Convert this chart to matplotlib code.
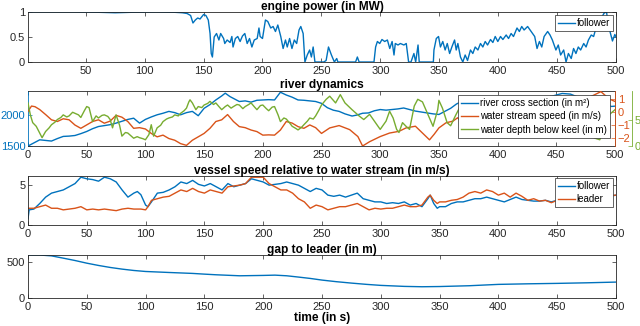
import matplotlib
matplotlib.use("Agg")
import matplotlib.pyplot as plt

# ---------------- data ----------------
power_t = [1, 20, 40, 60, 75, 90, 110, 125, 132, 136, 139, 141, 143, 145, 147, 150, 152, 154, 155.5, 156.5, 157.5,
           159, 161, 163, 164.5, 167, 168, 170, 172.5, 174, 175, 177, 179, 181, 183, 185, 187, 189, 191, 193, 195.5,
           197, 198, 200, 202.5, 204.5, 207, 209, 211, 213, 215.5, 217.5, 219.5, 221, 223, 225, 227, 229, 231,
           232.5, 234.5, 236, 238, 240, 241.5, 243, 244.5, 247, 252, 254, 256, 258.5, 261, 263, 264, 279, 280.5,
           282, 294.6, 296, 297.5, 299.5, 301.4, 303.7, 306, 308, 310, 311.6, 312.7, 315, 317, 320, 322, 324, 326,
           328.5, 330, 332, 333, 345, 345.5, 347.5, 349.4, 351, 353, 355, 356.8, 358.8, 360.7, 363, 364.4, 365.8,
           368, 370, 372, 374, 376.5, 378.5, 380.5, 382.8, 385, 387, 389, 391, 393.5, 395.5, 397.5, 399.7, 402,
           404, 406.8, 408.8, 411, 413, 416, 418, 420, 422, 425, 428, 431, 433, 435, 437, 439, 442, 444, 446, 449,
           451, 453, 455.6, 457.6, 459.6, 462, 464, 466, 468, 470, 472.6, 474.6, 476.6, 479, 481, 483, 485, 488,
           490, 492, 493, 495, 497, 499, 500]
power_mw = [1.0, 1.0, 1.0, 0.995, 0.985, 0.995, 1.0, 0.995, 0.985, 0.97, 0.93, 0.78, 0.84, 0.88, 0.86, 0.95, 0.93,
            0.84, 0.57, 0.17, 0.1, 0.5, 0.57, 0.44, 0.57, 0.47, 0.37, 0.44, 0.39, 0.51, 0.30, 0.47, 0.51, 0.41, 0.52,
            0.57, 0.37, 0.47, 0.30, 0.44, 0.47, 0.68, 0.51, 0.47, 0.84, 0.81, 0.68, 0.71, 0.61, 0.74, 0.51, 0.27,
            0.44, 0.30, 0.47, 0.27, 0.44, 0.37, 0.64, 0.71, 0.57, 0.0, 0.14, 0.24, 0.1, 0.30, 0.0, 0.0, 0.0, 0.03,
            0.30, 0.14, 0.0, 0.07, 0.0, 0.0, 0.1, 0.0, 0.0, 0.30, 0.41, 0.37, 0.45, 0.41, 0.44, 0.27, 0.41, 0.14,
            0.37, 0.34, 0.37, 0.34, 0.37, 0.0, 0.0, 0.17, 0.0, 0.34, 0.0, 0.0, 0.24, 0.47, 0.51, 0.30, 0.41, 0.24,
            0.37, 0.17, 0.30, 0.44, 0.24, 0.37, 0.1, 0.0, 0.14, 0.03, 0.24, 0.17, 0.30, 0.24, 0.37, 0.30, 0.41,
            0.34, 0.45, 0.39, 0.51, 0.41, 0.51, 0.45, 0.54, 0.47, 0.57, 0.51, 0.68, 0.61, 0.71, 0.64, 0.71, 0.61,
            0.51, 0.27, 0.41, 0.30, 0.51, 0.61, 0.54, 0.44, 0.24, 0.34, 0.14, 0.24, 0.0, 0.17, 0.07, 0.27, 0.17,
            0.30, 0.24, 0.37, 0.30, 0.44, 0.54, 0.51, 0.68, 0.75, 0.9, 0.98, 1.0, 0.8, 0.6, 0.42, 0.55, 0.5]

xsec_t = [0, 5, 10, 15, 20, 25, 30, 35, 40, 45, 50, 55, 60, 65, 70, 75, 80, 85, 90, 95, 100, 105, 110, 115, 120,
          125, 130, 135, 140, 145, 150, 155, 160, 165, 168, 172, 175, 180, 185, 190, 195, 200, 205, 210, 215, 220,
          225, 230, 235, 240, 245, 250, 255, 260, 265, 270, 276, 280, 285, 290, 295, 300, 305, 310, 315, 320, 325,
          330, 335, 340, 345, 350, 355, 360, 365, 370, 375, 385, 395, 405, 415, 425, 435, 445, 455, 462, 470, 480,
          490, 497, 500]
xsec_m2 = [1500, 1550, 1600, 1590, 1580, 1620, 1655, 1660, 1670, 1700, 1735, 1780, 1815, 1830, 1845, 1870, 1900,
           1930, 1950, 1870, 1930, 1970, 2005, 2030, 2060, 2040, 2005, 2040, 2060, 1990, 2110, 2170, 2245, 2310,
           2355, 2300, 2270, 2220, 2230, 2210, 2240, 2245, 2250, 2245, 2370, 2325, 2290, 2245, 2240, 2230, 2220,
           2190, 2120, 2080, 2060, 2020, 1985, 2000, 2030, 2035, 2070, 2090, 2080, 2090, 2100, 2115, 2090, 2065,
           2050, 2035, 2020, 2010, 2060, 2110, 2180, 2225, 2250, 2200, 2150, 2200, 2250, 2200, 2250, 2300, 2350,
           2340, 2280, 2230, 2180, 2140, 2145]

speed_t = [0, 3, 6, 10, 15, 20, 25, 30, 35, 40, 45, 50, 55, 60, 65, 70, 75, 80, 85, 90, 95, 100, 105, 110, 115,
           120, 125, 130, 135, 140, 145, 150, 155, 160, 165, 170, 175, 180, 185, 190, 195, 200, 205, 210, 215, 220,
           225, 230, 235, 240, 245, 250, 257, 265, 274, 281, 285, 291, 300, 308, 316, 322, 330, 336, 342, 346, 350,
           356, 362, 366, 370, 375, 385, 395, 405, 415, 425, 435, 445, 450, 460, 470, 480, 488, 495, 500]
speed_ms = [0.05, 0.45, 0.4, 0.18, -0.2, -0.6, -0.73, -0.52, -0.6, -1.0, -1.25, -0.99, -0.73, -0.6, -0.86, -0.7,
            -0.26, -0.4, -0.73, -1.25, -1.2, -1.3, -1.64, -1.9, -1.77, -2.03, -2.16, -2.42, -2.55, -2.16, -1.9,
            -1.64, -1.25, -0.73, -0.6, -0.2, -0.73, -1.12, -1.2, -1.38, -1.5, -1.77, -1.75, -1.77, -1.38, -0.73,
            -0.85, -1.12, -1.25, -0.99, -1.2, -1.64, -1.22, -1.04, -1.35, -1.88, -2.6, -2.27, -1.88, -1.61, -1.48,
            -1.22, -1.09, -1.61, -2.13, -1.7, -1.22, -0.83, -0.7, -0.44, -0.9, -0.8, -0.5, -0.2, 0.0, 0.3, 0.6,
            0.8, 1.2, 1.0, 0.5, 0.8, 1.2, 1.55, 1.0, 0.8]

depth_t = [0, 2, 4, 7, 10, 12, 15, 18, 20, 23, 25, 28, 30, 33, 35, 38, 40, 43, 45, 48, 50, 52, 55, 58, 60, 63, 65,
           68, 70, 72, 75, 78, 80, 83, 85, 88, 90, 93, 95, 98, 100, 103, 105, 107, 110, 113, 115, 118, 120, 123,
           125, 128, 130, 133, 135, 137, 138, 140, 143, 145, 148, 150, 153, 155, 158, 160, 163, 165, 168, 170, 173,
           175, 178, 180, 183, 185, 188, 190, 193, 195, 198, 200, 203, 205, 208, 210, 213, 215, 218, 220, 223, 225,
           228, 230, 233, 235, 238, 240, 243, 245, 248, 250, 254, 257, 262, 266, 270, 276, 282, 286, 291, 295, 300,
           305, 308, 311, 314, 316, 319, 322, 325, 329, 332, 336, 340, 345, 349, 350, 353, 357, 360, 364, 369, 375,
           385, 395, 405, 415, 425, 435, 445, 455, 465, 475, 483, 487, 490, 495, 500]
depth_m = [8.3, 6.0, 4.5, 3.8, 2.5, 1.6, 2.8, 3.5, 4.1, 4.6, 5.1, 5.5, 6.0, 5.6, 5.8, 6.5, 6.3, 6.0, 5.5, 6.8, 7.6,
           7.4, 4.7, 5.8, 5.4, 5.9, 6.0, 5.7, 5.1, 3.5, 6.0, 4.0, 1.9, 2.6, 2.5, 1.9, 1.5, 1.8, 1.6, 1.4, 1.2, 2.2,
           4.1, 1.9, 3.5, 4.0, 4.7, 5.2, 5.4, 5.6, 6.0, 5.8, 6.3, 6.8, 7.3, 8.5, 8.9, 8.3, 7.0, 7.6, 7.4, 7.9, 8.2,
           8.6, 8.0, 8.3, 7.5, 7.0, 7.6, 7.9, 7.3, 7.6, 8.0, 7.9, 7.2, 7.6, 8.0, 8.3, 7.5, 7.0, 7.8, 7.9, 7.2, 6.8,
           7.5, 7.6, 6.0, 4.7, 5.4, 5.2, 4.4, 3.8, 3.4, 3.1, 3.6, 4.1, 4.8, 5.4, 5.2, 5.8, 7.0, 7.9, 9.0, 9.6, 8.3,
           9.9, 8.3, 7.0, 5.8, 5.1, 6.1, 4.8, 3.2, 4.8, 6.7, 5.4, 3.2, 2.6, 4.5, 3.8, 3.2, 7.7, 9.0, 8.5, 6.4, 3.8,
           7.0, 8.8, 7.3, 4.5, 3.9, 5.8, 8.0, 7.5, 6.5, 7.0, 6.0, 5.5, 6.0, 5.0, 4.5, 4.0, 3.5, 2.5, 1.5, 1.2, 3.0,
           6.0, 7.0]

vs_t = [0, 1, 5, 10, 15, 20, 25, 30, 35, 40, 45, 50, 55, 60, 65, 70, 75, 80, 85, 90, 93, 96, 100, 102, 105, 110,
        115, 120, 125, 130, 135, 140, 145, 150, 155, 160, 165, 170, 175, 180, 185, 190, 195, 200, 205, 210, 215,
        220, 225, 230, 235, 240, 245, 250, 255, 260, 265, 270, 275, 280, 285, 290, 295, 300, 305, 310, 315, 320,
        325, 330, 335, 340, 342, 345, 348, 350, 355, 360, 365, 370, 375, 380, 385, 390, 395, 400, 405, 410, 415,
        420, 425, 430, 435, 440, 445, 450, 460, 470, 480, 486, 488, 490, 495, 500]
vs_follower = [0.8, 1.9, 2.0, 2.7, 3.5, 4.0, 4.2, 4.4, 4.8, 5.2, 6.0, 5.8, 5.7, 5.5, 6.0, 5.8, 5.4, 4.4, 3.5, 4.0,
               4.2, 3.8, 2.5, 2.3, 2.9, 4.0, 4.1, 4.4, 4.8, 5.4, 5.2, 5.6, 5.1, 4.9, 5.2, 4.8, 4.4, 5.2, 4.8, 5.0,
               5.2, 5.8, 5.6, 5.4, 5.0, 5.1, 5.2, 5.4, 5.2, 5.0, 4.6, 4.2, 4.6, 4.4, 3.75, 3.6, 3.75, 3.5, 3.75,
               4.0, 3.3, 3.1, 2.9, 2.9, 2.7, 2.8, 2.7, 2.9, 2.5, 2.7, 2.3, 3.3, 3.75, 2.7, 2.1, 2.3, 2.3, 2.7, 2.9,
               2.9, 3.1, 3.3, 3.3, 3.5, 3.3, 3.1, 2.9, 3.2, 3.5, 3.2, 3.1, 3.0, 3.0, 3.1, 2.9, 3.1, 3.3, 3.5, 3.3,
               3.0, 2.3, 3.2, 3.6, 3.75]
vs_leader = [2.1, 2.1, 2.1, 2.3, 2.5, 2.1, 2.1, 1.9, 2.0, 2.1, 2.3, 1.9, 2.0, 1.9, 2.0, 1.9, 1.8, 2.0, 2.1, 2.0,
             2.0, 2.0, 1.9, 2.3, 3.1, 3.3, 3.5, 3.6, 4.0, 4.4, 4.2, 4.6, 4.2, 4.0, 4.4, 4.2, 4.0, 4.8, 4.9, 5.0,
             5.2, 6.0, 6.0, 6.0, 5.2, 4.8, 4.4, 4.4, 4.0, 3.3, 2.9, 2.1, 2.5, 2.3, 1.9, 2.1, 2.3, 2.3, 2.5, 2.7,
             2.3, 1.9, 2.1, 2.0, 2.1, 2.1, 2.3, 2.5, 2.3, 2.3, 2.5, 3.5, 3.75, 3.1, 2.7, 2.9, 2.9, 3.1, 3.2, 3.5,
             4.0, 4.2, 4.0, 4.4, 4.2, 3.75, 4.0, 3.5, 4.0, 3.6, 3.1, 3.3, 3.0, 3.1, 2.8, 3.1, 3.3, 3.6, 3.5, 3.6,
             3.6, 3.7, 3.7, 3.75]

gap_t = [0, 10, 20, 30, 40, 50, 60, 70, 80, 90, 100, 120, 140, 150, 160, 180, 200, 210, 220, 230, 240, 250, 262,
         275, 288, 300, 320, 335, 350, 375, 400, 425, 450, 475, 500]
gap_m = [600, 600, 588, 556, 523, 486, 454, 426, 403, 384, 370, 356, 343, 333, 324, 310, 315, 319, 310, 292, 273,
         250, 228, 208, 190, 176, 162, 157, 160, 171, 190, 198, 204, 212, 222]

# ---------------- style ----------------
BLUE = "#0072BD"
ORANGE = "#D95319"
GREEN = "#77AC30"
AXC = "#262626"

plt.rcParams['font.family'] = ['Liberation Sans', 'DejaVu Sans']

W, H = 640.0, 326.0


def pos(left, top, right, bottom):
    return [left / W, 1 - bottom / H, (right - left) / W, (bottom - top) / H]


def style(ax):
    for s in ax.spines.values():
        s.set_color(AXC)
        s.set_linewidth(0.6)
    ax.tick_params(direction='in', length=3, width=0.5, top=True, right=True,
                   labelsize=8, colors=AXC, pad=2)
    ax.tick_params(axis='x', pad=3)


def title(ax, txt):
    ax.set_title(txt, fontsize=8.6, fontweight='bold', pad=1.5, color='black')


leg_kw = dict(fontsize=7.0, frameon=True, fancybox=False, edgecolor=AXC, framealpha=1,
              borderpad=0.3, handlelength=1.8, handletextpad=0.15, labelspacing=0.35,
              borderaxespad=0)

fig = plt.figure(figsize=(6.4, 3.26), dpi=100)

# ---- panel 1: engine power ----
ax1 = fig.add_axes(pos(28, 12, 616, 62))
style(ax1)
ax1.plot(power_t, power_mw, color=BLUE, lw=1.0, label='follower')
ax1.set_xlim(1, 500)
ax1.set_ylim(0, 1)
ax1.set_xticks(list(range(50, 501, 50)))
ax1.set_yticks([0, 0.5, 1])
ax1.set_yticklabels(['0', '0.5', '1'])
title(ax1, 'engine power (in MW)')
lg = ax1.legend(loc='upper right', bbox_to_anchor=(0.995, 0.94), **leg_kw)
lg.get_frame().set_linewidth(0.5)

# ---- panel 2: river dynamics ----
ax2 = fig.add_axes(pos(28, 91, 615, 146))
style(ax2)
ax2.tick_params(axis='y', right=False, colors=BLUE)
ax2.spines['left'].set_color(BLUE)
l1, = ax2.plot(xsec_t, xsec_m2, color=BLUE, lw=1.0, label='river cross section (in m²)')
ax2.set_xlim(0, 500)
ax2.set_ylim(1500, 2390)
ax2.set_yticks([1500, 2000])
ax2.set_xticks(list(range(0, 501, 50)))
title(ax2, 'river dynamics')

ax2r = ax2.twinx()
for k in ['left', 'top', 'bottom']:
    ax2r.spines[k].set_visible(False)
ax2r.spines['right'].set_color(ORANGE)
ax2r.spines['right'].set_linewidth(0.6)
ax2r.tick_params(axis='y', direction='in', length=3, width=0.5, colors=ORANGE, labelsize=8, pad=2)
l2, = ax2r.plot(speed_t, speed_ms, color=ORANGE, lw=1.0, label='water stream speed (in m/s)')
ax2r.set_ylim(-2.6, 1.6)
ax2r.set_yticks([-2, -1, 0, 1])

ax2g = ax2.twinx()
for k in ['left', 'top', 'bottom']:
    ax2g.spines[k].set_visible(False)
ax2g.spines['right'].set_position(('axes', 1.029))
ax2g.spines['right'].set_color(GREEN)
ax2g.spines['right'].set_linewidth(0.6)
ax2g.tick_params(axis='y', direction='in', length=3, width=0.5, colors=GREEN, labelsize=8, pad=2)
l3, = ax2g.plot(depth_t, depth_m, color=GREEN, lw=1.0, label='water depth below keel (in m)')
ax2g.set_ylim(0, 10.6)
ax2g.set_yticks([0, 5])
lg = ax2g.legend(handles=[l1, l2, l3], loc='upper right', bbox_to_anchor=(0.991, 0.927), **leg_kw)
lg.get_frame().set_linewidth(0.5)

# ---- panel 3: vessel speed ----
ax3 = fig.add_axes(pos(28, 176, 616, 225))
style(ax3)
ax3.plot(vs_t, vs_follower, color=BLUE, lw=1.0, label='follower')
ax3.plot(vs_t, vs_leader, color=ORANGE, lw=1.0, label='leader')
ax3.set_xlim(0, 500)
ax3.set_ylim(0, 6.15)
ax3.set_yticks([0, 5])
ax3.set_xticks(list(range(0, 501, 50)))
title(ax3, 'vessel speed relative to water stream (in m/s)')
lg = ax3.legend(loc='upper right', bbox_to_anchor=(0.995, 0.959), **leg_kw)
lg.get_frame().set_linewidth(0.5)

# ---- panel 4: gap ----
ax4 = fig.add_axes(pos(28, 255, 616, 298))
style(ax4)
ax4.plot(gap_t, gap_m, color=BLUE, lw=1.0)
ax4.set_xlim(0, 500)
ax4.set_ylim(0, 600)
ax4.set_yticks([0, 500])
ax4.set_xticks(list(range(0, 501, 50)))
title(ax4, 'gap to leader (in m)')
ax4.set_xlabel('time (in s)', fontsize=8.6, fontweight='bold', labelpad=0, color='black')

fig.savefig('out.png', dpi=100)
